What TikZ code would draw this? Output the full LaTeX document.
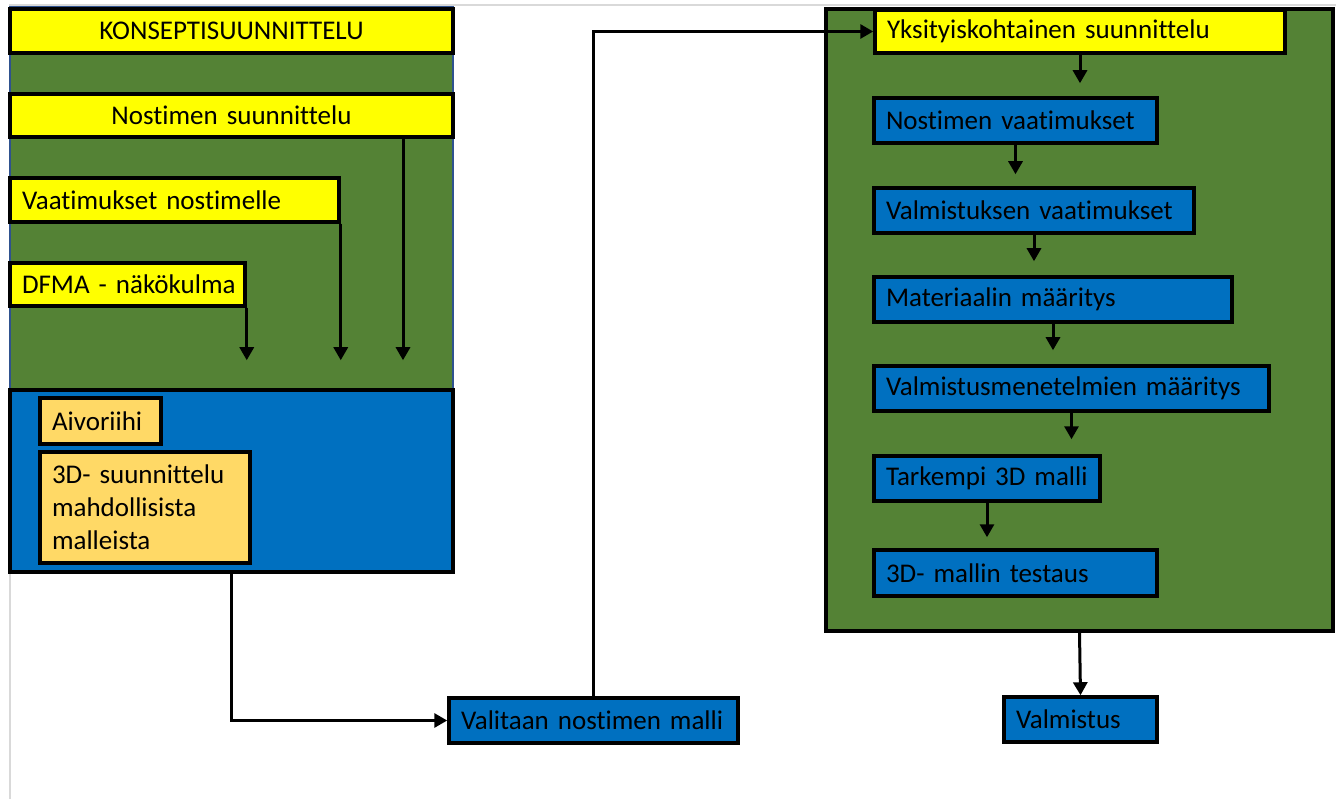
\documentclass[tikz,border=0pt]{standalone}
\usepackage{fontspec}
\setmainfont{Carlito}[Ligatures=NoCommon]
\usetikzlibrary{arrows.meta}
\definecolor{ylw}{HTML}{FFFF00}
\definecolor{grn}{HTML}{548235}
\definecolor{blu}{HTML}{0070C0}
\definecolor{org}{HTML}{FFD966}
\definecolor{edge}{HTML}{2F528F}
\begin{document}
\begin{tikzpicture}[x=1pt,y=-1pt,
  box/.style={draw=black,line width=3.5pt,rectangle,inner xsep=12pt,inner ysep=0pt,
    font=\fontsize{27}{33}\selectfont,text=black},
  lbox/.style={box,align=left},
  cbox/.style={box,align=center},
  arr/.style={line width=3pt,-{Triangle[width=14pt,length=13pt]}},
  pageedge/.style={draw=black!15,line width=1.5pt}]
\useasboundingbox (0,0) rectangle (1336,799);
\fill[white] (0,0) rectangle (1336,799);
\draw[pageedge] (10,799) -- (10,5) -- (1336,5);
% left group
\node[draw=edge,line width=2pt,fill=grn,minimum width=443pt,minimum height=383pt,inner sep=0pt] (greenL) at (231.5,198.5) {};
\node[cbox,fill=ylw,minimum width=443pt,minimum height=44pt,text width=419pt] (konsepti) at (231.5,31) {KONSEPTISUUNNITTELU};
\node[cbox,fill=ylw,minimum width=443pt,minimum height=43pt,text width=419pt] (nostsuun) at (231.5,115.5) {Nostimen suunnittelu};
\node[lbox,fill=ylw,minimum width=329pt,minimum height=44pt,text width=305pt] (vaat) at (174.5,200) {\mbox{Vaatimukset nostimelle}};
\node[lbox,fill=ylw,minimum width=235pt,minimum height=43pt,text width=211pt] (dfma) at (127.5,284.5) {\mbox{DFMA - näkökulma}};
\node[draw=black,line width=3.5pt,fill=blu,minimum width=443pt,minimum height=182pt,inner sep=0pt] (blueL) at (231.5,481) {};
\node[lbox,fill=org,minimum width=121pt,minimum height=46pt,text width=97pt] (aivo) at (100.5,421) {\mbox{Aivoriihi}};
\node[lbox,fill=org,minimum width=210pt,minimum height=111pt,text width=186pt] (d3) at (145,507.5) {3D- suunnittelu\\mahdollisista\\malleista};
\draw[arr,shorten >=28pt] (dfma.south east) -- (dfma.south east |- blueL.north);
\draw[arr,shorten >=28pt] (vaat.south east) -- (vaat.south east |- blueL.north);
\coordinate (nsx) at (403,137);
\draw[arr,shorten >=28pt] (nostsuun.south -| nsx) -- (nsx |- blueL.north);
% middle
\node[lbox,fill=blu,minimum width=289pt,minimum height=45pt,text width=265pt] (valitaan) at (593.5,720.5) {\mbox{Valitaan nostimen malli}};
\draw[arr] (blueL.south) |- (valitaan.west);
% right group
\node[draw=black,line width=3.5pt,fill=grn,minimum width=507pt,minimum height=622pt,inner sep=0pt] (greenR) at (1079.5,320) {};
\node[lbox,fill=ylw,minimum width=410pt,minimum height=43pt,text width=386pt] (yks) at (1080,31.5) {\mbox{Yksityiskohtainen suunnittelu}};
\node[lbox,fill=blu,minimum width=283pt,minimum height=45pt,text width=259pt] (nv) at (1015.5,120.5) {\mbox{Nostimen vaatimukset}};
\node[lbox,fill=blu,minimum width=320pt,minimum height=45pt,text width=296pt] (vv) at (1034,210.5) {\mbox{Valmistuksen vaatimukset}};
\node[lbox,fill=blu,minimum width=358pt,minimum height=45pt,text width=334pt] (mm) at (1053,299.5) {\mbox{Materiaalin määritys}};
\node[lbox,fill=blu,minimum width=395pt,minimum height=45pt,text width=371pt] (vmm) at (1071.5,388.5) {\mbox{Valmistusmenetelmien määritys}};
\node[lbox,fill=blu,minimum width=226pt,minimum height=45pt,text width=202pt] (t3d) at (987,478.5) {\mbox{Tarkempi 3D malli}};
\node[lbox,fill=blu,minimum width=283pt,minimum height=46pt,text width=259pt] (test) at (1015.5,573) {\mbox{3D- mallin testaus}};
\node[lbox,fill=blu,minimum width=153pt,minimum height=45pt,text width=129pt] (valm) at (1080.5,719.5) {\mbox{Valmistus}};
\draw[arr] (valitaan.north) |- (yks.west);
\draw[arr,shorten >=13pt] (yks.south) -- (yks.south |- nv.north);
\draw[arr,shorten >=12pt] (nv.south) -- (nv.south |- vv.north);
\draw[arr,shorten >=14pt] (vv.south) -- (vv.south |- mm.north);
\draw[arr,shorten >=14pt] (mm.south) -- (mm.south |- vmm.north);
\draw[arr,shorten >=15pt] (vmm.south) -- (vmm.south |- t3d.north);
\draw[arr,shorten >=11pt] (t3d.south) -- (t3d.south |- test.north);
\draw[arr] (greenR.south) -- (valm.north);
\end{tikzpicture}
\end{document}
